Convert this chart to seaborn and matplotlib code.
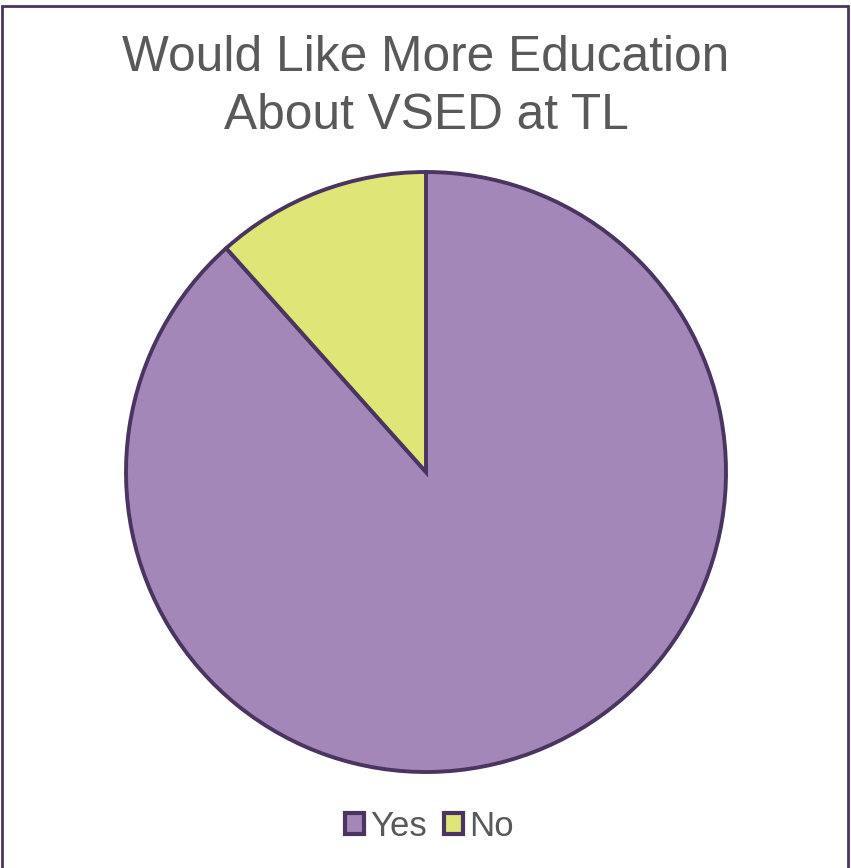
import matplotlib
matplotlib.use("Agg")
import matplotlib.pyplot as plt
from matplotlib.patches import Rectangle
import seaborn as sns

categories = ["Yes", "No"]
values = [88.4, 11.6]
colors = ["#A287B8", "#DFE677"]
edge_color = "#4A3460"
title = "Would Like More Education\nAbout VSED at TL"

sns.set_style("white")
plt.rcParams['font.family'] = ['Liberation Sans', 'DejaVu Sans']

W, H = 851, 868
fig = plt.figure(figsize=(W / 100, H / 100), dpi=100)

cx, cy, r = 426, 472, 300
ax = fig.add_axes([(cx - r) / W, (H - cy - r) / H, 2 * r / W, 2 * r / H])
wedges, _ = ax.pie(values, colors=colors, startangle=90, counterclock=False,
                   wedgeprops=dict(edgecolor=edge_color, linewidth=2.8),
                   radius=1.0)
ax.set_xlim(-1.0, 1.0)
ax.set_ylim(-1.0, 1.0)
ax.set_aspect("equal")
ax.axis("off")

fig.text(426 / W, 1 - 87 / H, title, ha="center", va="center",
         fontsize=35.7, color="#595959", linespacing=1.32)

handles = [Rectangle((0, 0), 1, 1, facecolor=c, edgecolor=edge_color, linewidth=3)
           for c in colors]
leg = fig.legend(handles, categories, loc="center", bbox_to_anchor=(429.5 / W, 1 - 826 / H),
                 ncol=2, frameon=False, fontsize=25, handlelength=0.55, handleheight=0.55,
                 handletextpad=0.17, columnspacing=0.5, labelcolor="#595959")

fig.patches.append(Rectangle((1.5 / W, -0.01), (848 - 1.5) / W, 1 - 5.5 / H + 0.01,
                             transform=fig.transFigure, fill=False,
                             edgecolor=edge_color, linewidth=2.0))

fig.savefig("out.png", dpi=100, facecolor="white")
